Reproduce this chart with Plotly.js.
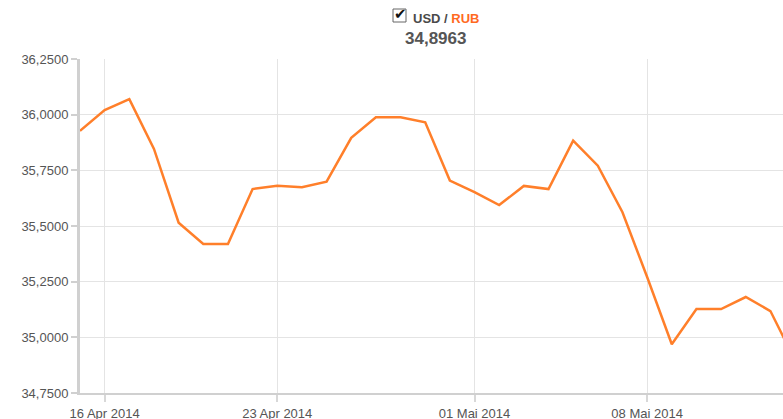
<!DOCTYPE html>
<html>
<head>
<meta charset="utf-8">
<script src="https://cdn.plot.ly/plotly-3.0.1.min.js"></script>
<style>html,body{margin:0;padding:0;background:#fff;}#chart{width:783px;height:419px;}</style>
</head>
<body>
<div id="chart"></div>
<script>
const dates = ["2014-04-15","2014-04-16","2014-04-17","2014-04-18","2014-04-19","2014-04-20","2014-04-21","2014-04-22","2014-04-23","2014-04-24","2014-04-25","2014-04-26","2014-04-27","2014-04-28","2014-04-29","2014-04-30","2014-05-01","2014-05-02","2014-05-03","2014-05-04","2014-05-05","2014-05-06","2014-05-07","2014-05-08","2014-05-09","2014-05-10","2014-05-11","2014-05-12","2014-05-13","2014-05-14"];
const rates = [35.927,36.021,36.070,35.846,35.515,35.419,35.419,35.666,35.681,35.674,35.699,35.896,35.988,35.988,35.966,35.704,35.652,35.594,35.680,35.666,35.883,35.771,35.562,35.271,34.969,35.127,35.127,35.181,35.118,34.8963];
const xTickVals = ["2014-04-16","2014-04-23","2014-05-01","2014-05-08"];
const xTickText = ["16 Apr 2014","23 Apr 2014","01 Mai 2014","08 Mai 2014"];
const yTickVals = [34.75,35.0,35.25,35.5,35.75,36.0,36.25];
const headerValue = "34,8963";

const trace = {
  x: dates, y: rates, type: 'scatter', mode: 'lines',
  line: {color: '#ff7f2a', width: 2.5}, hoverinfo: 'skip'
};
const L = 80, R = 783, T = 59, B = 393;
const px = v => (v - L) / (R - L);
const py = v => (B - v) / (B - T);
const layout = {
  width: 783, height: 419,
  margin: {l: 80, r: 0, t: 59, b: 26},
  paper_bgcolor: '#fff', plot_bgcolor: '#fff',
  separators: ',.',
  showlegend: false,
  font: {family: 'Liberation Sans, Arial, sans-serif', color: '#555', size: 13},
  xaxis: {
    type: 'date', range: ['2014-04-15', '2014-05-13 12:15'],
    tickmode: 'array', tickvals: xTickVals, ticktext: xTickText,
    showgrid: true, gridcolor: '#e4e4e4', gridwidth: 1,
    showline: true, linecolor: '#d0d0d0', linewidth: 2,
    ticks: 'outside', ticklen: 7, tickcolor: '#d8d8d8', tickwidth: 2,
    zeroline: false, fixedrange: true,
    tickfont: {size: 13, color: '#555'}
  },
  yaxis: {
    range: [34.75, 36.25], tickmode: 'array', tickvals: yTickVals,
    tickformat: '.4f',
    showgrid: true, gridcolor: '#e4e4e4', gridwidth: 1,
    showline: true, linecolor: '#d0d0d0', linewidth: 3,
    ticks: 'outside', ticklen: 6, tickcolor: '#d0d0d0', tickwidth: 2,
    zeroline: false, fixedrange: true,
    tickfont: {size: 13, color: '#555'}
  },
  shapes: [{
    type: 'rect', xref: 'paper', yref: 'paper',
    x0: px(393), x1: px(406), y0: py(22), y1: py(9),
    line: {color: '#666', width: 1}, fillcolor: '#fff'
  }],
  annotations: [
    {xref: 'paper', yref: 'paper', x: px(400.5), y: py(14), xanchor: 'center', yanchor: 'middle',
     text: '✔', showarrow: false, font: {size: 15, color: '#111', family: 'DejaVu Sans'}},
    {xref: 'paper', yref: 'paper', x: px(411), y: py(19), xanchor: 'left', yanchor: 'middle',
     text: '<b>USD / </b><b><span style="color:#ff6a1f">RUB</span></b>', showarrow: false,
     font: {size: 13, color: '#4a4a4a', family: 'Liberation Sans, Arial, sans-serif'}},
    {xref: 'paper', yref: 'paper', x: px(435.5), y: py(38), xanchor: 'center', yanchor: 'middle',
     text: '<b>' + headerValue + '</b>', showarrow: false,
     font: {size: 17, color: '#555', family: 'Liberation Sans, Arial, sans-serif'}}
  ]
};
Plotly.newPlot('chart', [trace], layout, {displayModeBar: false, staticPlot: true});
</script>
</body>
</html>
